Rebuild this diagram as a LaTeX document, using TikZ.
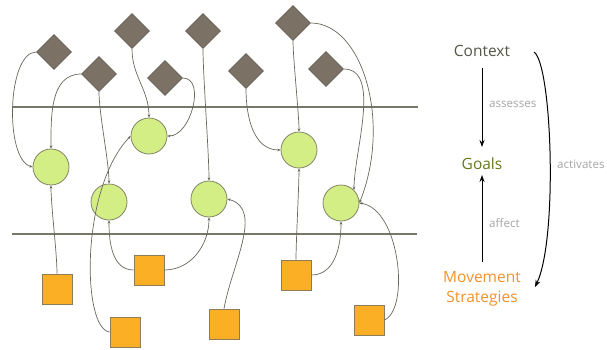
\documentclass[tikz,border=0pt]{standalone}
\usepackage{fontspec}
\setmainfont{Open Sans}
\usetikzlibrary{shapes.geometric,arrows.meta}

\definecolor{ctxfill}{RGB}{123,114,101}
\definecolor{ctxdraw}{RGB}{100,93,82}
\definecolor{goalfill}{RGB}{212,238,134}
\definecolor{goaldraw}{RGB}{130,132,100}
\definecolor{stratfill}{RGB}{251,175,37}
\definecolor{stratdraw}{RGB}{140,125,88}
\definecolor{wire}{RGB}{105,103,92}
\definecolor{rail}{RGB}{120,120,104}
\definecolor{ctxtext}{RGB}{85,85,72}
\definecolor{goaltext}{RGB}{100,122,26}
\definecolor{strattext}{RGB}{243,146,41}
\definecolor{lbltext}{RGB}{165,165,165}

\tikzset{
  ctxnode/.style={diamond, aspect=1, minimum size=35pt, inner sep=0pt,
    fill=ctxfill, draw=ctxdraw, line width=0.6pt},
  goalnode/.style={circle, minimum size=36pt, inner sep=0pt,
    fill=goalfill, draw=goaldraw, line width=0.8pt},
  stratnode/.style={rectangle, minimum size=30pt, inner sep=0pt,
    fill=stratfill, draw=stratdraw, line width=0.8pt},
  wireline/.style={draw=wire, line width=0.7pt,
    -{Stealth[length=3.2pt,width=2.6pt]}},
  railline/.style={draw=rail, line width=2pt},
  bigarrow/.style={draw=black, line width=1pt,
    -{Stealth[length=7pt,width=5pt]}},
  lbl/.style={text=lbltext, font=\fontsize{11.6}{14}\selectfont, anchor=west, inner sep=0pt},
  head/.style={font=\fontsize{15.5}{20}\selectfont, align=center, inner sep=0pt}
}

\begin{document}
\begin{tikzpicture}[x=1pt,y=1pt]
\useasboundingbox (0,0) rectangle (607,349);

% horizontal rails
\coordinate (r1a) at (13,242);
\coordinate (r1b) at (418,242);
\coordinate (r2a) at (12,115);
\coordinate (r2b) at (417,115);
\draw[railline] (r1a) -- (r1b);
\draw[railline] (r2a) -- (r2b);

% context diamonds
\node[ctxnode] (d1) at (54,297) {};
\node[ctxnode] (d2) at (99,275) {};
\node[ctxnode] (d3) at (132,318) {};
\node[ctxnode] (d4) at (165,271) {};
\node[ctxnode] (d5) at (203,318) {};
\node[ctxnode] (d6) at (246,278) {};
\node[ctxnode] (d7) at (293,326) {};
\node[ctxnode] (d8) at (326,280) {};

% goal circles
\node[goalnode] (c1) at (51,182) {};
\node[goalnode] (c2) at (149,213) {};
\node[goalnode] (c3) at (109,147) {};
\node[goalnode] (c4) at (209,150) {};
\node[goalnode] (c5) at (299,199) {};
\node[goalnode] (c6) at (341,146) {};

% strategy squares
\node[stratnode] (s1) at (57,60) {};
\node[stratnode] (s2) at (149,79) {};
\node[stratnode] (s3) at (125,17) {};
\node[stratnode] (s4) at (224,25) {};
\node[stratnode] (s5) at (296,74) {};
\node[stratnode] (s6) at (369,29) {};

% context -> goal links
\draw[wireline] (d1.west) to[out=180, in=165, looseness=0.65] (c1.west);
\draw[wireline] (d2.west) to[out=180, in=90] (c1.north);
\draw[wireline] (d2.south) to[out=-90, in=90, looseness=0.6] (c3.north);
\draw[wireline] (d3.south) to[out=-90, in=90] (c2.north);
\draw[wireline] (d4.east) to[out=0, in=0] (c2.east);
\draw[wireline] (d5.south) to[out=-90, in=90, looseness=0.5] (c4.north);
\draw[wireline] (d6.south) to[out=-90, in=180] (c5.west);
\draw[wireline] (d7.south) to[out=-90, in=90, looseness=0.5] (c5.north);
\draw[wireline] (d7.east) .. controls (362,326) and (392,228) .. (c6.east);
\draw[wireline] (d8.east) to[out=0, in=90, looseness=0.8] (c6.45);

% strategy -> goal links
\draw[wireline] (s1.north) to[out=90, in=-90, looseness=0.6] (c1.south);
\draw[wireline] (s2.west) to[out=180, in=-90] (c3.south);
\draw[wireline] (s2.east) to[out=0, in=-90] (c4.south);
\draw[wireline] (s3.west) .. controls (82,20) and (80,160) .. (c2.west);
\draw[wireline] (s4.north) .. controls (232,85) and (264,140) .. (c4.east);
\draw[wireline] (s5.north) to[out=90, in=-90, looseness=0.5] (c5.south);
\draw[wireline] (s5.east) to[out=0, in=-90] (c6.south);
\draw[wireline] (s6.east) .. controls (410,40) and (400,140) .. (c6.east);

% legend
\node[head, text=ctxtext] (ctx) at (482,298) {Context};
\node[head, text=goaltext] (goals) at (482,185) {Goals};
\node[head, text=strattext] (strat) at (482,60) {Movement\\Strategies};

\coordinate (aTop) at (481,281);
\coordinate (aBot) at (481,202);
\draw[bigarrow] (ctx.south |- aTop) -- (ctx.south |- aBot);
\node[lbl] (lassess) at (489,245) {assesses};

\coordinate (fBot) at (481,87);
\coordinate (fTop) at (481,174);
\draw[bigarrow] (goals.south |- fBot) -- (goals.south |- fTop);
\node[lbl] (laffect) at (489,126) {affect};

\coordinate (actS) at (534,297);
\coordinate (actE) at (535,62);
\draw[bigarrow] (actS) .. controls (552,285) and (558,110) .. (actE);
\node[lbl] (lact) at (557,185) {activates};
\end{tikzpicture}
\end{document}
